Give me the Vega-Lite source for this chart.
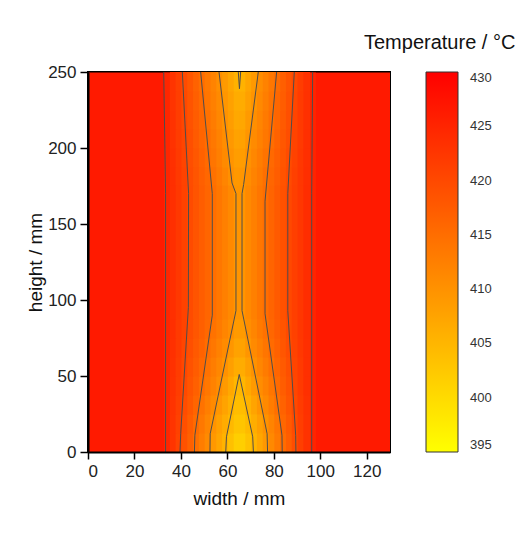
{
"$schema": "https://vega.github.io/schema/vega-lite/v6.json",
"width": 302, "height": 380,
"autosize": {"type": "none"},
"padding": {"left": 88, "top": 72, "right": 142, "bottom": 84},
"background": "white",
"config": {
  "font": "Liberation Sans",
  "view": {"stroke": "black", "strokeWidth": 2},
  "axis": {"domainColor": "black", "domainWidth": 2, "tickColor": "black", "tickWidth": 1.5, "labelFontSize": 17, "labelColor": "#222", "labelPadding": 4, "titleFontSize": 19, "titleFontWeight": "normal", "titleColor": "#111", "grid": false}
},
"title": {"text": "Temperature / °C", "anchor": "start", "frame": "group", "dx": 276, "offset": 10, "fontSize": 20, "fontWeight": "normal", "color": "#111", "font": "Liberation Sans"},
"datasets": {
"outer": [{"x":0,"y":0,"t":426.5},{"x":95,"y":0,"t":426.5}],
"strips": [{"x":32.5,"y":0,"t":424.8},{"x":95,"y":0,"t":425.0}],
"grid": [
{"x":35,"y":0,"t":422.8},{"x":37.5,"y":0,"t":420.8},{"x":40,"y":0,"t":418.8},{"x":42.5,"y":0,"t":416.8},{"x":45,"y":0,"t":414.7},{"x":47.5,"y":0,"t":412.9},{"x":50,"y":0,"t":411.0},{"x":52.5,"y":0,"t":409.1},{"x":55,"y":0,"t":407.3},{"x":57.5,"y":0,"t":405.5},{"x":60,"y":0,"t":403.6},{"x":62.5,"y":0,"t":401.7},{"x":65,"y":0,"t":401.6},{"x":67.5,"y":0,"t":403.4},{"x":70,"y":0,"t":405.2},{"x":72.5,"y":0,"t":407.2},{"x":75,"y":0,"t":409.2},{"x":77.5,"y":0,"t":411.2},{"x":80,"y":0,"t":413.2},{"x":82.5,"y":0,"t":415.2},{"x":85,"y":0,"t":417.3},{"x":87.5,"y":0,"t":419.4},{"x":90,"y":0,"t":421.3},{"x":92.5,"y":0,"t":423.1},
{"x":35,"y":12.5,"t":422.9},{"x":37.5,"y":12.5,"t":421.1},{"x":40,"y":12.5,"t":419.2},{"x":42.5,"y":12.5,"t":417.3},{"x":45,"y":12.5,"t":415.3},{"x":47.5,"y":12.5,"t":413.5},{"x":50,"y":12.5,"t":411.7},{"x":52.5,"y":12.5,"t":409.8},{"x":55,"y":12.5,"t":408.1},{"x":57.5,"y":12.5,"t":406.4},{"x":60,"y":12.5,"t":404.7},{"x":62.5,"y":12.5,"t":403.1},{"x":65,"y":12.5,"t":403.0},{"x":67.5,"y":12.5,"t":404.5},{"x":70,"y":12.5,"t":406.2},{"x":72.5,"y":12.5,"t":408.1},{"x":75,"y":12.5,"t":410.0},{"x":77.5,"y":12.5,"t":411.9},{"x":80,"y":12.5,"t":413.8},{"x":82.5,"y":12.5,"t":415.8},{"x":85,"y":12.5,"t":417.7},{"x":87.5,"y":12.5,"t":419.7},{"x":90,"y":12.5,"t":421.5},{"x":92.5,"y":12.5,"t":423.2},
{"x":35,"y":25,"t":423.0},{"x":37.5,"y":25,"t":421.3},{"x":40,"y":25,"t":419.6},{"x":42.5,"y":25,"t":417.9},{"x":45,"y":25,"t":416.1},{"x":47.5,"y":25,"t":414.4},{"x":50,"y":25,"t":412.7},{"x":52.5,"y":25,"t":411.0},{"x":55,"y":25,"t":409.3},{"x":57.5,"y":25,"t":407.6},{"x":60,"y":25,"t":405.8},{"x":62.5,"y":25,"t":404.1},{"x":65,"y":25,"t":404.0},{"x":67.5,"y":25,"t":405.6},{"x":70,"y":25,"t":407.5},{"x":72.5,"y":25,"t":409.4},{"x":75,"y":25,"t":411.2},{"x":77.5,"y":25,"t":413.0},{"x":80,"y":25,"t":414.8},{"x":82.5,"y":25,"t":416.5},{"x":85,"y":25,"t":418.3},{"x":87.5,"y":25,"t":420.1},{"x":90,"y":25,"t":421.7},{"x":92.5,"y":25,"t":423.3},
{"x":35,"y":37.5,"t":423.2},{"x":37.5,"y":37.5,"t":421.6},{"x":40,"y":37.5,"t":420.0},{"x":42.5,"y":37.5,"t":418.4},{"x":45,"y":37.5,"t":416.8},{"x":47.5,"y":37.5,"t":415.2},{"x":50,"y":37.5,"t":413.6},{"x":52.5,"y":37.5,"t":412.1},{"x":55,"y":37.5,"t":410.5},{"x":57.5,"y":37.5,"t":408.8},{"x":60,"y":37.5,"t":407.0},{"x":62.5,"y":37.5,"t":404.9},{"x":65,"y":37.5,"t":404.9},{"x":67.5,"y":37.5,"t":406.9},{"x":70,"y":37.5,"t":408.8},{"x":72.5,"y":37.5,"t":410.6},{"x":75,"y":37.5,"t":412.2},{"x":77.5,"y":37.5,"t":413.8},{"x":80,"y":37.5,"t":415.5},{"x":82.5,"y":37.5,"t":417.2},{"x":85,"y":37.5,"t":418.8},{"x":87.5,"y":37.5,"t":420.5},{"x":90,"y":37.5,"t":422.0},{"x":92.5,"y":37.5,"t":423.5},
{"x":35,"y":50,"t":423.3},{"x":37.5,"y":50,"t":421.8},{"x":40,"y":50,"t":420.3},{"x":42.5,"y":50,"t":418.8},{"x":45,"y":50,"t":417.4},{"x":47.5,"y":50,"t":415.9},{"x":50,"y":50,"t":414.4},{"x":52.5,"y":50,"t":412.9},{"x":55,"y":50,"t":411.5},{"x":57.5,"y":50,"t":410.0},{"x":60,"y":50,"t":408.2},{"x":62.5,"y":50,"t":406.4},{"x":65,"y":50,"t":406.4},{"x":67.5,"y":50,"t":408.2},{"x":70,"y":50,"t":410.0},{"x":72.5,"y":50,"t":411.6},{"x":75,"y":50,"t":413.1},{"x":77.5,"y":50,"t":414.6},{"x":80,"y":50,"t":416.1},{"x":82.5,"y":50,"t":417.7},{"x":85,"y":50,"t":419.2},{"x":87.5,"y":50,"t":420.7},{"x":90,"y":50,"t":422.1},{"x":92.5,"y":50,"t":423.6},
{"x":35,"y":62.5,"t":423.4},{"x":37.5,"y":62.5,"t":422.0},{"x":40,"y":62.5,"t":420.5},{"x":42.5,"y":62.5,"t":419.2},{"x":45,"y":62.5,"t":417.8},{"x":47.5,"y":62.5,"t":416.5},{"x":50,"y":62.5,"t":415.1},{"x":52.5,"y":62.5,"t":413.7},{"x":55,"y":62.5,"t":412.3},{"x":57.5,"y":62.5,"t":410.9},{"x":60,"y":62.5,"t":409.4},{"x":62.5,"y":62.5,"t":407.7},{"x":65,"y":62.5,"t":407.7},{"x":67.5,"y":62.5,"t":409.5},{"x":70,"y":62.5,"t":411.0},{"x":72.5,"y":62.5,"t":412.4},{"x":75,"y":62.5,"t":413.9},{"x":77.5,"y":62.5,"t":415.3},{"x":80,"y":62.5,"t":416.7},{"x":82.5,"y":62.5,"t":418.2},{"x":85,"y":62.5,"t":419.6},{"x":87.5,"y":62.5,"t":420.9},{"x":90,"y":62.5,"t":422.3},{"x":92.5,"y":62.5,"t":423.6},
{"x":35,"y":75,"t":423.5},{"x":37.5,"y":75,"t":422.1},{"x":40,"y":75,"t":420.8},{"x":42.5,"y":75,"t":419.5},{"x":45,"y":75,"t":418.2},{"x":47.5,"y":75,"t":417.0},{"x":50,"y":75,"t":415.7},{"x":52.5,"y":75,"t":414.4},{"x":55,"y":75,"t":413.1},{"x":57.5,"y":75,"t":411.8},{"x":60,"y":75,"t":410.5},{"x":62.5,"y":75,"t":408.9},{"x":65,"y":75,"t":408.9},{"x":67.5,"y":75,"t":410.5},{"x":70,"y":75,"t":411.8},{"x":72.5,"y":75,"t":413.2},{"x":75,"y":75,"t":414.5},{"x":77.5,"y":75,"t":415.9},{"x":80,"y":75,"t":417.2},{"x":82.5,"y":75,"t":418.5},{"x":85,"y":75,"t":419.9},{"x":87.5,"y":75,"t":421.1},{"x":90,"y":75,"t":422.4},{"x":92.5,"y":75,"t":423.7},
{"x":35,"y":175,"t":423.5},{"x":37.5,"y":175,"t":422.2},{"x":40,"y":175,"t":420.9},{"x":42.5,"y":175,"t":419.6},{"x":45,"y":175,"t":418.3},{"x":47.5,"y":175,"t":417.0},{"x":50,"y":175,"t":415.8},{"x":52.5,"y":175,"t":414.5},{"x":55,"y":175,"t":413.1},{"x":57.5,"y":175,"t":411.7},{"x":60,"y":175,"t":410.3},{"x":62.5,"y":175,"t":409.2},{"x":65,"y":175,"t":409.4},{"x":67.5,"y":175,"t":410.7},{"x":70,"y":175,"t":412.0},{"x":72.5,"y":175,"t":413.3},{"x":75,"y":175,"t":414.7},{"x":77.5,"y":175,"t":416.0},{"x":80,"y":175,"t":417.3},{"x":82.5,"y":175,"t":418.6},{"x":85,"y":175,"t":419.9},{"x":87.5,"y":175,"t":421.2},{"x":90,"y":175,"t":422.4},{"x":92.5,"y":175,"t":423.7},
{"x":35,"y":187.5,"t":423.4},{"x":37.5,"y":187.5,"t":422.0},{"x":40,"y":187.5,"t":420.7},{"x":42.5,"y":187.5,"t":419.3},{"x":45,"y":187.5,"t":418.0},{"x":47.5,"y":187.5,"t":416.7},{"x":50,"y":187.5,"t":415.4},{"x":52.5,"y":187.5,"t":414.0},{"x":55,"y":187.5,"t":412.6},{"x":57.5,"y":187.5,"t":411.1},{"x":60,"y":187.5,"t":409.7},{"x":62.5,"y":187.5,"t":408.5},{"x":65,"y":187.5,"t":408.6},{"x":67.5,"y":187.5,"t":410.1},{"x":70,"y":187.5,"t":411.5},{"x":72.5,"y":187.5,"t":412.9},{"x":75,"y":187.5,"t":414.2},{"x":77.5,"y":187.5,"t":415.6},{"x":80,"y":187.5,"t":417.0},{"x":82.5,"y":187.5,"t":418.3},{"x":85,"y":187.5,"t":419.7},{"x":87.5,"y":187.5,"t":421.0},{"x":90,"y":187.5,"t":422.3},{"x":92.5,"y":187.5,"t":423.6},
{"x":35,"y":200,"t":423.2},{"x":37.5,"y":200,"t":421.8},{"x":40,"y":200,"t":420.5},{"x":42.5,"y":200,"t":419.1},{"x":45,"y":200,"t":417.7},{"x":47.5,"y":200,"t":416.3},{"x":50,"y":200,"t":415.0},{"x":52.5,"y":200,"t":413.5},{"x":55,"y":200,"t":412.1},{"x":57.5,"y":200,"t":410.6},{"x":60,"y":200,"t":409.2},{"x":62.5,"y":200,"t":407.8},{"x":65,"y":200,"t":407.9},{"x":67.5,"y":200,"t":409.5},{"x":70,"y":200,"t":410.9},{"x":72.5,"y":200,"t":412.3},{"x":75,"y":200,"t":413.7},{"x":77.5,"y":200,"t":415.1},{"x":80,"y":200,"t":416.6},{"x":82.5,"y":200,"t":418.0},{"x":85,"y":200,"t":419.4},{"x":87.5,"y":200,"t":420.8},{"x":90,"y":200,"t":422.1},{"x":92.5,"y":200,"t":423.5},
{"x":35,"y":212.5,"t":423.1},{"x":37.5,"y":212.5,"t":421.6},{"x":40,"y":212.5,"t":420.2},{"x":42.5,"y":212.5,"t":418.8},{"x":45,"y":212.5,"t":417.4},{"x":47.5,"y":212.5,"t":416.0},{"x":50,"y":212.5,"t":414.5},{"x":52.5,"y":212.5,"t":413.0},{"x":55,"y":212.5,"t":411.5},{"x":57.5,"y":212.5,"t":410.0},{"x":60,"y":212.5,"t":408.5},{"x":62.5,"y":212.5,"t":407.0},{"x":65,"y":212.5,"t":407.1},{"x":67.5,"y":212.5,"t":408.8},{"x":70,"y":212.5,"t":410.4},{"x":72.5,"y":212.5,"t":411.8},{"x":75,"y":212.5,"t":413.3},{"x":77.5,"y":212.5,"t":414.7},{"x":80,"y":212.5,"t":416.2},{"x":82.5,"y":212.5,"t":417.7},{"x":85,"y":212.5,"t":419.1},{"x":87.5,"y":212.5,"t":420.6},{"x":90,"y":212.5,"t":422.0},{"x":92.5,"y":212.5,"t":423.4},
{"x":35,"y":225,"t":422.9},{"x":37.5,"y":225,"t":421.5},{"x":40,"y":225,"t":420.0},{"x":42.5,"y":225,"t":418.5},{"x":45,"y":225,"t":417.0},{"x":47.5,"y":225,"t":415.6},{"x":50,"y":225,"t":414.0},{"x":52.5,"y":225,"t":412.5},{"x":55,"y":225,"t":411.0},{"x":57.5,"y":225,"t":409.4},{"x":60,"y":225,"t":407.9},{"x":62.5,"y":225,"t":406.4},{"x":65,"y":225,"t":406.4},{"x":67.5,"y":225,"t":408.1},{"x":70,"y":225,"t":409.7},{"x":72.5,"y":225,"t":411.2},{"x":75,"y":225,"t":412.7},{"x":77.5,"y":225,"t":414.2},{"x":80,"y":225,"t":415.8},{"x":82.5,"y":225,"t":417.3},{"x":85,"y":225,"t":418.9},{"x":87.5,"y":225,"t":420.4},{"x":90,"y":225,"t":421.9},{"x":92.5,"y":225,"t":423.3},
{"x":35,"y":237.5,"t":422.8},{"x":37.5,"y":237.5,"t":421.3},{"x":40,"y":237.5,"t":419.7},{"x":42.5,"y":237.5,"t":418.2},{"x":45,"y":237.5,"t":416.6},{"x":47.5,"y":237.5,"t":415.1},{"x":50,"y":237.5,"t":413.5},{"x":52.5,"y":237.5,"t":412.0},{"x":55,"y":237.5,"t":410.4},{"x":57.5,"y":237.5,"t":408.8},{"x":60,"y":237.5,"t":407.2},{"x":62.5,"y":237.5,"t":405.6},{"x":65,"y":237.5,"t":405.6},{"x":67.5,"y":237.5,"t":407.3},{"x":70,"y":237.5,"t":409.0},{"x":72.5,"y":237.5,"t":410.6},{"x":75,"y":237.5,"t":412.2},{"x":77.5,"y":237.5,"t":413.7},{"x":80,"y":237.5,"t":415.3},{"x":82.5,"y":237.5,"t":416.9},{"x":85,"y":237.5,"t":418.5},{"x":87.5,"y":237.5,"t":420.1},{"x":90,"y":237.5,"t":421.6},{"x":92.5,"y":237.5,"t":423.2}
],
"band": [
{"x":35,"y":87.5,"t":423.5},{"x":37.5,"y":87.5,"t":422.3},{"x":40,"y":87.5,"t":421.0},{"x":42.5,"y":87.5,"t":419.7},{"x":45,"y":87.5,"t":418.5},{"x":47.5,"y":87.5,"t":417.3},{"x":50,"y":87.5,"t":416.1},{"x":52.5,"y":87.5,"t":414.9},{"x":55,"y":87.5,"t":413.7},{"x":57.5,"y":87.5,"t":412.4},{"x":60,"y":87.5,"t":411.2},{"x":62.5,"y":87.5,"t":409.6},{"x":65,"y":87.5,"t":409.6},{"x":67.5,"y":87.5,"t":411.2},{"x":70,"y":87.5,"t":412.5},{"x":72.5,"y":87.5,"t":413.8},{"x":75,"y":87.5,"t":415.0},{"x":77.5,"y":87.5,"t":416.3},{"x":80,"y":87.5,"t":417.6},{"x":82.5,"y":87.5,"t":418.9},{"x":85,"y":87.5,"t":420.1},{"x":87.5,"y":87.5,"t":421.3},{"x":90,"y":87.5,"t":422.5},{"x":92.5,"y":87.5,"t":423.8}
],
"contours": [
{"id":"E1","x":33.4,"y":0},{"id":"E1","x":33.4,"y":170},{"id":"E1","x":32.6,"y":250},
{"id":"E2","x":96.3,"y":0},{"id":"E2","x":96.3,"y":170},{"id":"E2","x":96.7,"y":250},
{"id":"D1","x":39.6,"y":0},{"id":"D1","x":39.9,"y":12},{"id":"D1","x":43.2,"y":95},{"id":"D1","x":43.3,"y":170},{"id":"D1","x":40.6,"y":250},
{"id":"D2","x":89.5,"y":0},{"id":"D2","x":89.4,"y":11},{"id":"D2","x":86.0,"y":93},{"id":"D2","x":86.0,"y":170},{"id":"D2","x":88.8,"y":250},
{"id":"C1","x":45.8,"y":0},{"id":"C1","x":46.0,"y":11},{"id":"C1","x":53.5,"y":90},{"id":"C1","x":53.5,"y":170},{"id":"C1","x":48.5,"y":250},
{"id":"C2","x":83.6,"y":0},{"id":"C2","x":83.5,"y":11},{"id":"C2","x":76.2,"y":91},{"id":"C2","x":76.2,"y":165},{"id":"C2","x":81.2,"y":250},
{"id":"B1","x":52.5,"y":0},{"id":"B1","x":52.6,"y":12},{"id":"B1","x":63.7,"y":93},{"id":"B1","x":63.7,"y":170},{"id":"B1","x":62.0,"y":177},{"id":"B1","x":56.4,"y":250},
{"id":"B2","x":77.3,"y":0},{"id":"B2","x":77.1,"y":12},{"id":"B2","x":66.3,"y":93},{"id":"B2","x":66.3,"y":170},{"id":"B2","x":67.0,"y":176},{"id":"B2","x":73.3,"y":250},
{"id":"A1","x":59.3,"y":0},{"id":"A1","x":59.6,"y":10},{"id":"A1","x":65.1,"y":51},
{"id":"A2","x":71.2,"y":0},{"id":"A2","x":70.9,"y":10},{"id":"A2","x":65.1,"y":51},
{"id":"V1","x":65.2,"y":239},{"id":"V1","x":64.7,"y":250},
{"id":"V2","x":65.2,"y":239},{"id":"V2","x":65.7,"y":250}
]
},
"layer": [
{
  "data": {"name": "outer"},
  "mark": {"type": "rect", "clip": true},
  "encoding": {
    "x": {"field": "x", "type": "quantitative", "bin": {"binned": true, "step": 35},
      "scale": {"domain": [0, 130], "nice": false, "zero": false},
      "axis": {"title": "width / mm", "values": [0,10,20,30,40,50,60,70,80,90,100,110,120,130],
        "labelExpr": "datum.value % 20 === 0 ? datum.label : ''",
        "tickSize": {"condition": {"test": "datum.value % 20 === 0", "value": 7}, "value": 4},
        "titlePadding": 10}},
    "y": {"field": "y", "type": "quantitative", "bin": {"binned": true, "step": 250},
      "scale": {"domain": [0, 250], "nice": false, "zero": false},
      "axis": {"title": "height / mm", "values": [0,25,50,75,100,125,150,175,200,225,250],
        "labelExpr": "datum.value % 50 === 0 ? datum.label : ''",
        "tickSize": {"condition": {"test": "datum.value % 50 === 0", "value": 8}, "value": 4},
        "titlePadding": 2}},
    "color": {"field": "t", "type": "quantitative",
      "scale": {"domain": [395, 430], "range": ["#ffff00", "#ff0000"], "interpolate": "rgb", "clamp": true},
      "legend": {"type": "gradient", "title": null, "orient": "none", "legendX": 338, "legendY": 0, "direction": "vertical", "padding": 0,
        "gradientLength": 380, "gradientThickness": 32, "gradientStrokeColor": "#333", "gradientStrokeWidth": 1,
        "values": [395,400,405,410,415,420,425,430], "labelFontSize": 13, "labelOffset": 12,
        "labelBaseline": "middle", "labelColor": "#333", "labelOverlap": false}}
  }
},
{
  "data": {"name": "strips"},
  "mark": {"type": "rect", "clip": true},
  "encoding": {
    "x": {"field": "x", "type": "quantitative", "bin": {"binned": true, "step": 2.9}},
    "y": {"field": "y", "type": "quantitative", "bin": {"binned": true, "step": 250}},
    "color": {"field": "t", "type": "quantitative"}
  }
},
{
  "data": {"name": "grid"},
  "mark": {"type": "rect", "clip": true},
  "encoding": {
    "x": {"field": "x", "type": "quantitative", "bin": {"binned": true, "step": 2.9}},
    "y": {"field": "y", "type": "quantitative", "bin": {"binned": true, "step": 13.5}},
    "color": {"field": "t", "type": "quantitative"}
  }
},
{
  "data": {"name": "band"},
  "mark": {"type": "rect", "clip": true},
  "encoding": {
    "x": {"field": "x", "type": "quantitative", "bin": {"binned": true, "step": 2.9}},
    "y": {"field": "y", "type": "quantitative", "bin": {"binned": true, "step": 88}},
    "color": {"field": "t", "type": "quantitative"}
  }
},
{
  "data": {"name": "contours"},
  "mark": {"type": "line", "color": "#4d4d4d", "strokeWidth": 1, "clip": true},
  "encoding": {
    "x": {"field": "x", "type": "quantitative"},
    "y": {"field": "y", "type": "quantitative"},
    "detail": {"field": "id"},
    "order": {"field": "y"}
  }
}
]
}
